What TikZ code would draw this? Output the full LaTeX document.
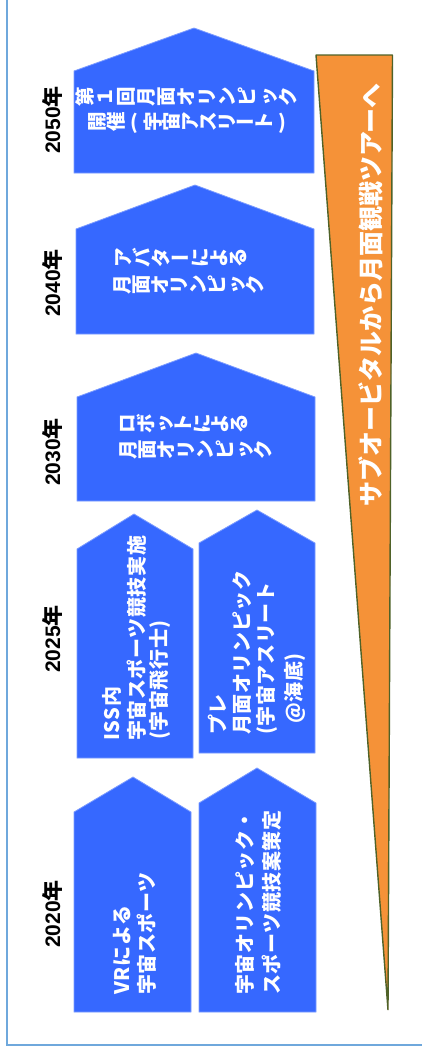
\documentclass[tikz,border=0pt]{standalone}
\usepackage{fontspec}
\setmainfont{Liberation Sans}
\newfontfamily\jp{Noto Sans CJK JP}
\newfontfamily\jpls{Noto Sans CJK JP}[LetterSpace=3]
\newfontfamily\lib{Liberation Sans}
\usepackage{graphicx}
\definecolor{boxblue}{HTML}{3668FF}
\definecolor{boxline}{HTML}{7B9BFF}
\definecolor{tourfill}{HTML}{F59238}
\definecolor{tourline}{HTML}{4F6228}
\definecolor{framecol}{HTML}{6FA8DC}
\newlength\cellpitch
\newcommand\glyphcell[1]{\makebox[1em][c]{\raisebox{0pt}[0.88em][0.12em]{#1}}}
\newcommand\rc[1]{\makebox[\cellpitch][c]{\rotatebox[origin=c]{90}{\glyphcell{#1}}}}
\newcommand\uc[1]{\makebox[\cellpitch][c]{\glyphcell{#1}}}
\begin{document}
\begin{tikzpicture}[x=1pt,y=-1pt,
  stage/.style={fill=boxblue, draw=boxline, line width=0.8pt},
  tour/.style={fill=tourfill, draw=tourline, line width=1.4pt, line join=bevel},
  framelines/.style={draw=framecol, line width=2pt},
  yearlbl/.style={rotate=90, inner sep=0, text=black, font=\lib\bfseries\fontsize{21}{21}\selectfont},
  boxtxt/.style={rotate=90, anchor=west, inner sep=0, text=white, font=\jpls\bfseries\fontsize{20}{20}\selectfont},
  uptxt/.style={inner sep=0, text=white, font=\jp\bfseries\fontsize{19.5}{19.5}\selectfont},
  tourtxt/.style={rotate=90, inner sep=0, text=white, font=\jp\bfseries\fontsize{25}{25}\selectfont}]
\useasboundingbox (0,0) rectangle (421,1053);
% frame
\draw[framelines] (7,-5) -- (7,1045) -- (430,1045);
% tour wedge
\path[tour] (316,55) -- (392.5,55) -- (388,1010) -- cycle;
\node[tourtxt] (tourlabel) at (371,295) {サブオービタルから月面観戦ツアーへ};
% stage shapes
\path[stage] (74,173) -- (74,71) -- (194,28) -- (314,71) -- (314,173) -- cycle;
\path[stage] (76,334) -- (76,229) -- (195,185) -- (314,229) -- (314,334) -- cycle;
\path[stage] (77,501) -- (77,397) -- (196,353) -- (315,397) -- (315,501) -- cycle;
\path[stage] (77,758) -- (77,549) -- (134,514) -- (193,549) -- (193,758) -- cycle;
\path[stage] (199,753) -- (199,543) -- (257,510) -- (315,543) -- (315,753) -- cycle;
\path[stage] (74,1012) -- (74,812) -- (133,777) -- (191,812) -- (191,1012) -- cycle;
\path[stage] (199,1012) -- (199,803) -- (257,768) -- (316,803) -- (316,1012) -- cycle;
% year labels
\node[yearlbl] (y2050) at (52,120) {2050{\jp 年}};
\node[yearlbl] (y2040) at (52,283) {2040{\jp 年}};
\node[yearlbl] (y2030) at (52,452) {2030{\jp 年}};
\node[yearlbl] (y2025) at (52,639) {2025{\jp 年}};
\node[yearlbl] (y2020) at (52,914) {2020{\jp 年}};
% upper boxes (vertical text, turned with the figure)
\node[uptxt] (t50a) at (186.5,97) {\setlength\cellpitch{20.3pt}\rc{第}\rc{１}\rc{回}\rc{月}\rc{面}\rc{オ}\rc{リ}\rc{ン}\rc{ピ}\rc{ッ}\rc{ク}};
\node[uptxt] (t50b) at (190,122) {\setlength\cellpitch{18.5pt}\rc{開}\rc{催}\uc{(}\rc{宇}\rc{宙}\rc{ア}\rc{ス}\rc{リ}\uc{ー}\rc{ト}\uc{)}};
\node[uptxt] (t40a) at (180.5,258) {\setlength\cellpitch{19.3pt}\rc{ア}\rc{バ}\rc{タ}\uc{ー}\rc{に}\rc{よ}\rc{る}};
\node[uptxt] (t40b) at (188.5,285) {\setlength\cellpitch{19.1pt}\rc{月}\rc{面}\rc{オ}\rc{リ}\rc{ン}\rc{ピ}\rc{ッ}\rc{ク}};
\node[uptxt] (t30a) at (183,424) {\setlength\cellpitch{18.6pt}\rc{ロ}\rc{ボ}\rc{ッ}\rc{ト}\rc{に}\rc{よ}\rc{る}};
\node[uptxt] (t30b) at (195.5,450) {\setlength\cellpitch{19.4pt}\rc{月}\rc{面}\rc{オ}\rc{リ}\rc{ン}\rc{ピ}\rc{ッ}\rc{ク}};
% lower boxes
\node[boxtxt] (t25a1) at (112,741) {ISS内};
\node[boxtxt] (t25a2) at (137,741) {宇宙スポーツ競技実施};
\node[boxtxt] (t25a3) at (160,740) {(宇宙飛行士)};
\node[boxtxt] (t25b1) at (218,735) {プレ};
\node[boxtxt] (t25b2) at (242,735) {月面オリンピック};
\node[boxtxt] (t25b3) at (267,735) {(宇宙アスリート};
\node[boxtxt] (t25b4) at (295,724) {@海底)};
\node[boxtxt] (t20a1) at (122,995) {VRによる};
\node[boxtxt] (t20a2) at (147,995) {宇宙スポーツ};
\node[boxtxt] (t20b1) at (245,995) {宇宙オリンピック・};
\node[boxtxt] (t20b2) at (272,995) {スポーツ競技案策定};
\end{tikzpicture}
\end{document}
